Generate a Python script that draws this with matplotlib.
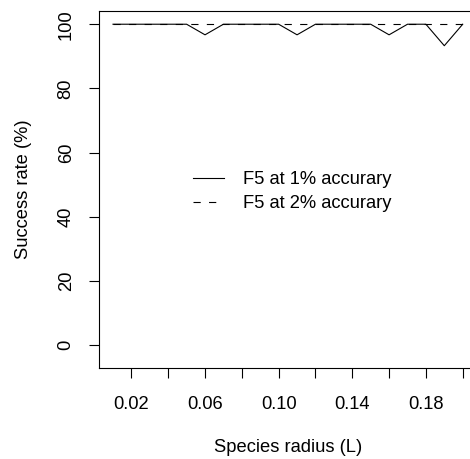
import matplotlib
matplotlib.use("Agg")
import matplotlib.pyplot as plt

plt.rcParams['font.family'] = ['Liberation Sans', 'DejaVu Sans']

# species radius and success rate for the two accuracy levels
radius = [0.01, 0.02, 0.03, 0.04, 0.05, 0.06, 0.07, 0.08, 0.09, 0.10,
          0.11, 0.12, 0.13, 0.14, 0.15, 0.16, 0.17, 0.18, 0.19, 0.20]
rate_1pct = [100, 100, 100, 100, 100, 96.7, 100, 100, 100, 100,
             96.7, 100, 100, 100, 100, 96.7, 100, 100, 93.3, 100]
rate_2pct = [100] * 20
labels = ['F5 at 1% accurary', 'F5 at 2% accurary']

x_ticks = [0.02, 0.04, 0.06, 0.08, 0.10, 0.12, 0.14, 0.16, 0.18, 0.20]
x_ticklabels = ['0.02', '', '0.06', '', '0.10', '', '0.14', '', '0.18', '']
y_ticks = [0, 20, 40, 60, 80, 100]

W, H = 470, 459
fs = 13.2
fig = plt.figure(figsize=(W / 100, H / 100), dpi=100)
# plot region runs past the right edge of the figure
ax = fig.add_axes([99 / W, 91 / H, 377.7 / W, 357 / H])

ax.plot(radius, rate_1pct, color='black', lw=0.8, label=labels[0])
ax.plot(radius, rate_2pct, color='black', lw=0.8, dashes=(6.5, 7.5), label=labels[1])

ax.set_xlim(0.0024, 0.2076)
ax.set_ylim(-7.12, 104.12)

ax.set_xticks(x_ticks)
ax.set_xticklabels(x_ticklabels)
ax.set_yticks(y_ticks)
ax.set_yticklabels([str(v) for v in y_ticks], rotation=90, va='center')
ax.tick_params(axis='x', length=7.2, width=0.8, pad=13, labelsize=fs)
ax.tick_params(axis='y', length=7.5, width=0.8, pad=10, labelsize=fs)
for side in ax.spines.values():
    side.set_linewidth(0.8)

ax.set_xlabel('Species radius (L)', fontsize=fs)
ax.xaxis.set_label_coords(0.5, (12 - 91) / 357)
ax.xaxis.label.set_va('center')
ax.set_ylabel('Success rate (%)', fontsize=fs)
ax.yaxis.set_label_coords((23 - 99) / 377.7, 0.5)
ax.yaxis.label.set_va('center')

ax.legend(loc='upper left', bbox_to_anchor=(192.7 / W, (H - 171) / H),
          bbox_transform=fig.transFigure, frameon=False, fontsize=fs,
          borderpad=0, borderaxespad=0, handlelength=1.7, handletextpad=1.05,
          labelspacing=0.4)

fig.savefig('out.png', dpi=100)
